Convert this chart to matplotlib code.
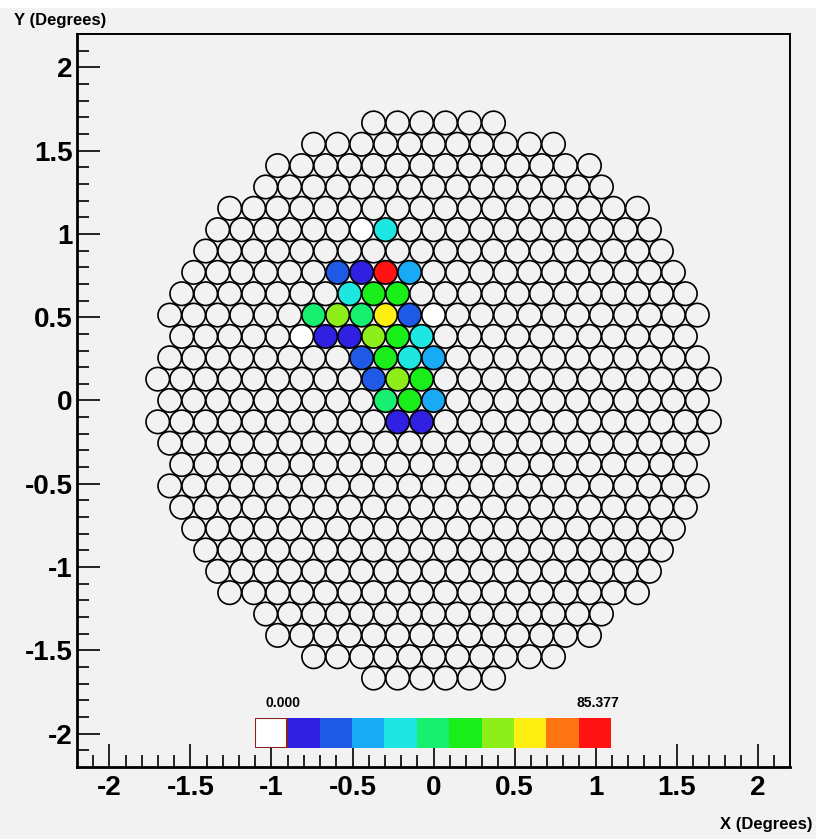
import numpy as np
import matplotlib
matplotlib.use("Agg")
import matplotlib.pyplot as plt
from matplotlib.colors import ListedColormap, BoundaryNorm
from matplotlib.patches import Rectangle

plt.rcParams['font.family'] = ['Liberation Sans', 'DejaVu Sans']

# camera: hexagonal grid of PMTs, cut to a near-circle
pitch = 0.148          # degrees between neighbouring tubes
n_rows = 13            # rows above / below the centre row
r2_cut = 135           # squared radius of the cut, in pitch units

# lit tubes: row index, column (in pitch units along x) and signal
lit_rows = [8, 6, 6, 6, 6, 5, 5, 5, 4, 4, 4, 4, 4, 3, 3, 3, 3, 3,
            2, 2, 2, 2, 1, 1, 1, 0, 0, 0, -1, -1]
lit_cols = [-2, -4, -3, -2, -1, -3.5, -2.5, -1.5, -5, -4, -3, -2, -1,
            -4.5, -3.5, -2.5, -1.5, -0.5, -3, -2, -1, 0, -2.5, -1.5, -0.5,
            -2, -1, 0, -1.5, -0.5]
lit_vals = [33, 22, 14, 85.377, 28, 32, 50, 52, 39, 58, 43, 67, 21,
            12, 13, 60, 51, 35, 22, 49, 33, 28, 21, 57, 51,
            43, 50, 27, 12, 11]

# tubes with a small signal (lowest palette bin, white)
dim_rows = [8, 3, 4]
dim_cols = [-3, -5.5, 0]
dim_vals = [3, 2, 3]

z_max = 85.377
palette = ['#ffffff', '#3020e2', '#1e5ae6', '#18aaf5', '#1ee6e0', '#18ee70',
           '#1aee1a', '#8eee1a', '#ffee12', '#ff7412', '#ff1212']

cmap = ListedColormap(palette)
bounds = np.linspace(0, z_max, len(palette) + 1)
norm = BoundaryNorm(bounds, cmap.N)

# all tube positions
cam_x, cam_y, cam_key = [], [], []
for r in range(-n_rows, n_rows + 1):
    off = 0.5 * (abs(r) % 2)
    for k in range(-n_rows, n_rows + 1):
        c = k + off
        if c * c + 0.75 * r * r <= r2_cut:
            cam_x.append(c * pitch)
            cam_y.append(r * pitch * np.sqrt(3) / 2)
            cam_key.append((r, c))

signal = {}
for r, c, v in zip(dim_rows, dim_cols, dim_vals):
    signal[(r, c)] = v
for r, c, v in zip(lit_rows, lit_cols, lit_vals):
    signal[(r, c)] = v

faces = []
for key in cam_key:
    if key in signal:
        faces.append(cmap(norm(min(signal[key], z_max * 0.9999))))
    else:
        faces.append('none')

bg = '#f2f2f2'
fig = plt.figure(figsize=(8.16, 8.39), dpi=100, facecolor=bg)
fig.patches.append(Rectangle((0, 0.99), 1, 0.01, transform=fig.transFigure,
                             facecolor='white', edgecolor='none', zorder=-1))
ax = fig.add_axes([0.0944, 0.0858, 0.8738, 0.8737])
ax.set_facecolor(bg)

ax.scatter(cam_x, cam_y, s=285, facecolors=faces, edgecolors='black',
           linewidths=1.2, zorder=3)

ax.set_xlim(-2.2, 2.2)
ax.set_ylim(-2.2, 2.2)

ticks = [-2, -1.5, -1, -0.5, 0, 0.5, 1, 1.5, 2]
tick_labels = ['-2', '-1.5', '-1', '-0.5', '0', '0.5', '1', '1.5', '2']
minor = np.arange(-2.1, 2.15, 0.1)
ax.set_xticks(ticks)
ax.set_xticklabels(tick_labels)
ax.set_yticks(ticks)
ax.set_yticklabels(tick_labels)
ax.set_xticks(minor, minor=True)
ax.set_yticks(minor, minor=True)
ax.tick_params(which='both', direction='in', top=False, right=False,
               color='black', width=1.2)
ax.tick_params(which='major', length=16.5, labelsize=20)
ax.tick_params(which='minor', length=8.5)
ax.tick_params(axis='x', which='major', pad=6)
ax.tick_params(axis='y', which='major', pad=3)
for lab in ax.get_xticklabels() + ax.get_yticklabels():
    lab.set_fontweight('bold')

for side in ['left', 'bottom']:
    ax.spines[side].set_linewidth(2.0)
for side in ['top', 'right']:
    ax.spines[side].set_linewidth(1.4)

fig.text(14 / 816, 1 - 21 / 839, 'Y (Degrees)', fontsize=12, fontweight='bold',
         ha='left', va='center')
fig.text(813 / 816, 1 - 825 / 839, 'X (Degrees)', fontsize=12, fontweight='bold',
         ha='right', va='center')

# palette bar
cax = fig.add_axes([255 / 816, 1 - 748 / 839, 356 / 816, 30 / 839])
centers = (bounds[:-1] + bounds[1:]) / 2
cax.pcolormesh(bounds, [0, 1], centers[None, :], cmap=cmap, norm=norm)
cax.add_patch(Rectangle((bounds[0], 0), bounds[1] - bounds[0], 1, fill=False,
                        edgecolor='#8b2020', linewidth=1.5, zorder=4))
cax.set_xlim(0, z_max)
cax.set_ylim(0, 1)
cax.axis('off')

fig.text(265 / 816, 1 - 703 / 839, '0.000', fontsize=10, fontweight='bold',
         ha='left', va='center')
fig.text(619 / 816, 1 - 703 / 839, '85.377', fontsize=10, fontweight='bold',
         ha='right', va='center')

fig.savefig('out.png', dpi=100, facecolor=bg)
